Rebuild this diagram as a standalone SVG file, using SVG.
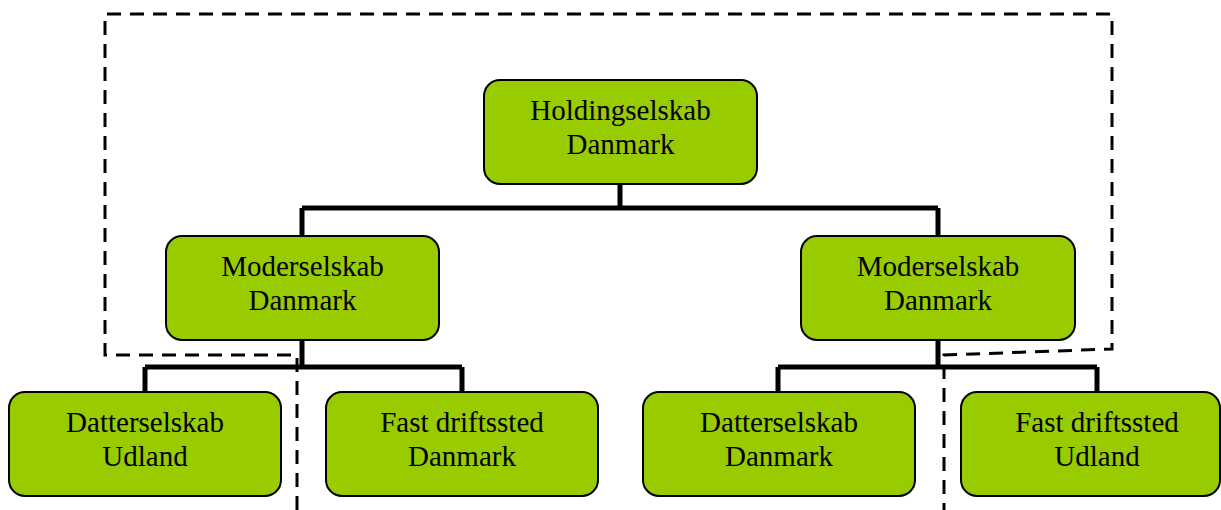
<svg xmlns="http://www.w3.org/2000/svg" width="1221" height="510" viewBox="0 0 1221 510">
  <style>
    .box { fill: #99cc00; stroke: #000; stroke-width: 2; }
    .lbl { font-family: "Liberation Serif", "Times New Roman", serif; font-size: 29px; fill: #000; text-anchor: middle; }
    .link { fill: none; stroke: #000; stroke-width: 5; }
    .border { fill: none; stroke: #000; stroke-width: 3; stroke-dasharray: 14 9; }
  </style>

  <!-- tax group boundary -->
  <g id="boundary">
    <path class="border" d="M297,510 L297,355 L105,355 L105,14 L1112,14 L1112,349 L944,355 L944,510"/>
  </g>

  <!-- ownership lines -->
  <g id="connectors">
    <path class="link" d="M620,184 V208 M302,208 H938 M302,208 V236 M938,208 V236"/>
    <path class="link" d="M302,340 V367 M145,367 H462 M145,367 V392 M462,367 V392"/>
    <path class="link" d="M938,340 V367 M778,367 H1097 M778,367 V392 M1097,367 V392"/>
  </g>

  <g id="holding">
    <rect class="box" x="484" y="80" width="273" height="104" rx="16"/>
    <text class="lbl" x="620.5" y="120">Holdingselskab</text>
    <text class="lbl" x="620.5" y="154">Danmark</text>
  </g>

  <g id="moder-left">
    <rect class="box" x="166" y="236" width="273" height="104" rx="16"/>
    <text class="lbl" x="302.5" y="276">Moderselskab</text>
    <text class="lbl" x="302.5" y="310">Danmark</text>
  </g>

  <g id="moder-right">
    <rect class="box" x="801" y="236" width="274" height="104" rx="16"/>
    <text class="lbl" x="938" y="276">Moderselskab</text>
    <text class="lbl" x="938" y="310">Danmark</text>
  </g>

  <g id="datter-udland">
    <rect class="box" x="9" y="392" width="272" height="104" rx="16"/>
    <text class="lbl" x="145" y="432">Datterselskab</text>
    <text class="lbl" x="145" y="466">Udland</text>
  </g>

  <g id="fast-danmark">
    <rect class="box" x="326" y="392" width="272" height="104" rx="16"/>
    <text class="lbl" x="462" y="432">Fast driftssted</text>
    <text class="lbl" x="462" y="466">Danmark</text>
  </g>

  <g id="datter-danmark">
    <rect class="box" x="643" y="392" width="272" height="104" rx="16"/>
    <text class="lbl" x="779" y="432">Datterselskab</text>
    <text class="lbl" x="779" y="466">Danmark</text>
  </g>

  <g id="fast-udland">
    <rect class="box" x="961" y="392" width="259" height="104" rx="16"/>
    <text class="lbl" x="1097" y="432">Fast driftssted</text>
    <text class="lbl" x="1097" y="466">Udland</text>
  </g>
</svg>
